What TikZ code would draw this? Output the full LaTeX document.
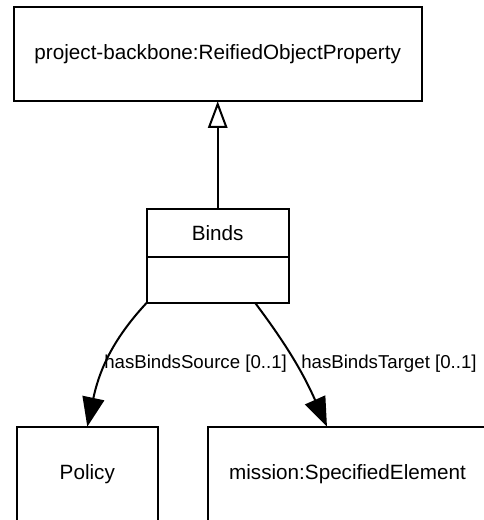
\documentclass[tikz,border=0pt]{standalone}
\usepackage{fontspec}
\setmainfont{Liberation Sans}
\usepackage{tikz}
\usetikzlibrary{arrows.meta,positioning}

\tikzset{
  classbox/.style={draw, line width=1.5pt, outer sep=0pt, inner sep=0pt,
    font=\fontsize{15.5}{18}\selectfont},
  rolelabel/.style={inner sep=0pt, anchor=west, font=\fontsize{14}{17}\selectfont},
  generalizes/.style={line width=1.5pt,
    -{Triangle[open,length=20pt,width=14.5pt,line width=1.5pt]}},
  hasrole/.style={line width=1.5pt, -{Triangle[length=22pt,width=16.5pt]}}
}

\begin{document}
\begin{tikzpicture}[x=0.75pt,y=0.75pt]
  \useasboundingbox (0,0) rectangle (483,520);

  % superclass
  \node[classbox, minimum width=306pt, minimum height=70.5pt] (rop) at (217.7,465.8)
    {project-backbone:ReifiedObjectProperty};

  % Binds: name part and (empty) attribute part
  \node[classbox, minimum width=106.5pt, minimum height=35.8pt] (binds) at (217.7,286.8) {Binds};
  \node[classbox, minimum width=106.5pt, minimum height=34.3pt, below=0pt of binds] (bindsattr) {};

  % range classes, cut off at the lower edge
  \node[classbox, minimum width=105.5pt, minimum height=70.5pt] (policy) at (87.3,46.3) {Policy};
  \node[classbox, minimum width=209.7pt, minimum height=70.5pt] (specelem) at (347.5,46.3)
    {mission:SpecifiedElement};

  % generalization
  \draw[generalizes] (binds) -- (rop);

  % source and target properties
  \draw[hasrole] (bindsattr.south west) to[out=-133,in=78] (policy.north);
  \draw[hasrole] ([xshift=28pt]bindsattr.south) to[out=-53,in=114] ([xshift=-15.4pt]specelem.north);

  \node[rolelabel] (srclabel) at (104,156) {hasBindsSource [0..1]};
  \node[rolelabel] (tgtlabel) at (301,156) {hasBindsTarget [0..1]};
\end{tikzpicture}
\end{document}
